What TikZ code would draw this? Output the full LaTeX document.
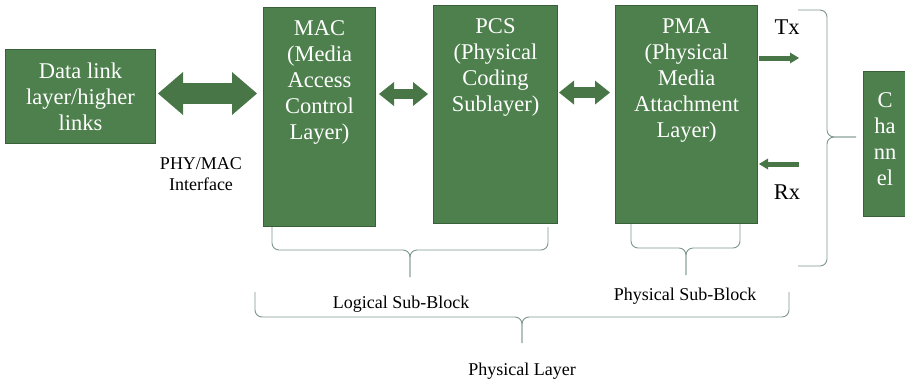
\documentclass[tikz,border=0pt]{standalone}
\usepackage{fontspec}
\setmainfont{Liberation Serif}
\usetikzlibrary{positioning, arrows.meta}

\definecolor{boxgreen}{RGB}{77,128,76}
\definecolor{edgegreen}{RGB}{58,96,57}
\definecolor{arrowgreen}{RGB}{72,118,71}
\definecolor{bracegray}{RGB}{125,150,142}

\begin{document}
\begin{tikzpicture}[x=1pt, y=-1pt,
    layer/.style={rectangle, draw=edgegreen, fill=boxgreen, line width=1pt, inner sep=0pt, anchor=north west,
        text=white, align=center, font=\fontsize{22.5}{26}\selectfont},
    boxtext/.style={text=white, align=center, inner sep=0pt, font=\fontsize{22.5}{26}\selectfont},
    note/.style={align=center, inner sep=0pt, font=\fontsize{18}{21}\selectfont},
    sig/.style={inner sep=0pt, font=\fontsize{22.5}{26}\selectfont},
    bigarrow/.style={arrowgreen, line width=21pt,
        {Triangle[length=25pt,width=43pt,line width=0pt]}-{Triangle[length=25pt,width=43pt,line width=0pt]}},
    midarrow/.style={arrowgreen, line width=10.5pt,
        {Triangle[length=15pt,width=24pt,line width=0pt]}-{Triangle[length=15pt,width=24pt,line width=0pt]}},
    thinarrow/.style={arrowgreen, line width=5pt, -{Triangle[length=9pt,width=11pt,line width=0pt]}},
    brace/.style={draw=bracegray, line width=0.9pt, rounded corners=7pt}]

    \useasboundingbox (0,0) rectangle (905,384);

    % Blocks
    \node[layer, minimum width=150pt, minimum height=94pt] (dl) at (5,49) {Data link\\layer/higher\\links};
    \node[layer, minimum width=112pt, minimum height=219pt] (mac) at (263,7) {};
    \node[layer, minimum width=124pt, minimum height=218pt] (pcs) at (433,5) {};
    \node[layer, minimum width=142pt, minimum height=218pt] (pma) at (615,5) {};
    \node[layer, minimum width=43pt, minimum height=145pt] (chan) at (863,71) {};

    % Block texts
    \node[boxtext, below=13.5pt of mac.north] {MAC\\(Media\\Access\\Control\\Layer)};
    \node[boxtext, below=13.5pt of pcs.north] {PCS\\(Physical\\Coding\\Sublayer)};
    \node[boxtext, below=13.5pt of pma.north] {PMA\\(Physical\\Media\\Attachment\\Layer)};
    \node[boxtext] at ([yshift=5pt]chan.center) {C\\ha\\nn\\el};

    % Links between blocks
    \coordinate (lvl) at (0,94);
    \draw[bigarrow, shorten <=2pt, shorten >=6pt] ([yshift=3pt]dl.east) -- ([yshift=3pt]dl.east -| mac.west);
    \draw[midarrow, shorten <=3pt, shorten >=5pt] (mac.east |- lvl) -- (pcs.west |- lvl);
    \draw[midarrow, shorten <=1pt, shorten >=5pt] ([yshift=1.5pt]pcs.east |- lvl) -- ([yshift=1.5pt]pma.west |- lvl);

    % Tx / Rx
    \coordinate (txend) at (799,58);
    \coordinate (rxstart) at (799,164);
    \draw[thinarrow, shorten <=1pt] (pma.east |- txend) -- (txend);
    \draw[thinarrow, shorten >=1pt] (rxstart) -- (rxstart -| pma.east);
    \node[sig] (tx) at (787,27) {Tx};
    \node[sig] (rx) at (787,192) {Rx};

    % Braces
    % logical sub-block
    \draw[brace] (272,227) -- (272,250) -- (410,250) -- (410,277);
    \draw[brace] (548,227) -- (548,250) -- (410,250) -- (410,277);
    % physical sub-block
    \draw[brace] (631,224) -- (631,248) -- (686,248) -- (686,275);
    \draw[brace] (740,224) -- (740,248) -- (686,248) -- (686,275);
    % physical layer
    \draw[brace] (255,292) -- (255,317) -- (522,317) -- (522,343);
    \draw[brace] (789,292) -- (789,317) -- (522,317) -- (522,343);
    % channel
    \draw[brace] (798,10) -- (827,10) -- (827,137) -- (856,137);
    \draw[brace] (798,266) -- (827,266) -- (827,137) -- (856,137);

    % Labels
    \node[note] (iface) at (201,174) {PHY/MAC\\Interface};
    \node[note] (logic) at (401,304) {Logical Sub-Block};
    \node[note] (physb) at (685,296) {Physical Sub-Block};
    \node[note] (phyl) at (522,371) {Physical Layer};

\end{tikzpicture}
\end{document}
